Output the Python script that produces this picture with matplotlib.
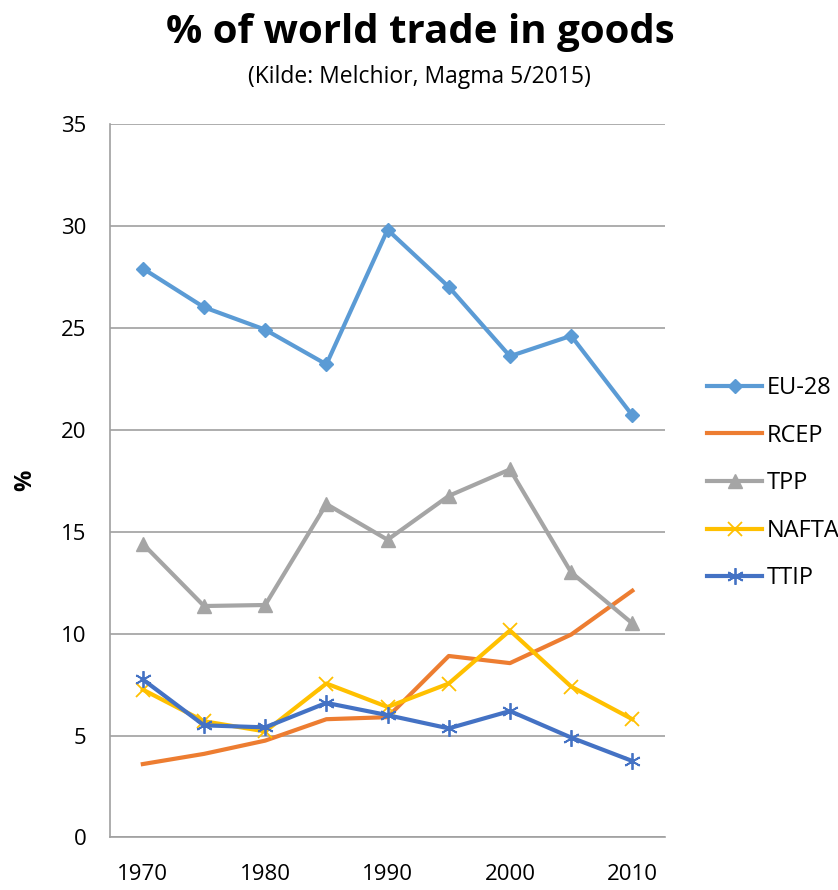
import numpy as np
import matplotlib.pyplot as plt

plt.rcParams['font.family'] = ['Open Sans', 'DejaVu Sans']

years = [1970, 1975, 1980, 1985, 1990, 1995, 2000, 2005, 2010]
eu28 = [27.9, 26.0, 24.9, 23.2, 29.8, 27.0, 23.6, 24.6, 20.7]
rcep = [3.6, 4.1, 4.75, 5.8, 5.9, 8.9, 8.55, 9.95, 12.1]
tpp = [14.4, 11.35, 11.4, 16.35, 14.6, 16.75, 18.05, 13.0, 10.5]
nafta = [7.25, 5.7, 5.2, 7.55, 6.4, 7.55, 10.15, 7.4, 5.8]
ttip = [7.75, 5.5, 5.4, 6.6, 6.0, 5.35, 6.2, 4.9, 3.75]

fig = plt.figure(figsize=(8.38, 8.9), dpi=100)
ax = fig.add_axes([0.131, 0.059, 0.663, 0.802])

lw = 3.0
ax.plot(years, eu28, color='#5B9BD5', lw=lw, marker='D', ms=7, label='EU-28')
ax.plot(years, rcep, color='#ED7D31', lw=lw, label='RCEP')
ax.plot(years, tpp, color='#A5A5A5', lw=lw, marker='^', ms=10, label='TPP')
ax.plot(years, nafta, color='#FFC000', lw=lw, marker='x', ms=10, mew=1.3, label='NAFTA')
ax.plot(years, ttip, color='#4472C4', lw=lw, marker=(6, 2, 0), ms=12, mew=1.3, label='TTIP')

ax.set_xlim(1967.3, 2012.7)
ax.set_ylim(0, 35)
ax.set_yticks(np.arange(0, 36, 5))
ax.set_xticks([1970, 1980, 1990, 2000, 2010])
ax.grid(axis='y', color='#A0A0A0', lw=1.2)
ax.set_axisbelow(True)
for s in ['top', 'right']:
    ax.spines[s].set_visible(False)
for s in ['left', 'bottom']:
    ax.spines[s].set_color('#A0A0A0')
    ax.spines[s].set_linewidth(1.2)
ax.tick_params(axis='both', length=0, labelsize=16)
ax.tick_params(axis='y', pad=17)
ax.tick_params(axis='x', pad=19)

# y axis label placed on the figure
fig.text(0.030, 0.46, '%', rotation=90, ha='center', va='center',
         fontsize=17, fontweight='bold')

fig.text(0.502, 0.963, '% of world trade in goods', ha='center', va='center',
         fontsize=29, fontweight='bold')
fig.text(0.5, 0.914, '(Kilde: Melchior, Magma 5/2015)', ha='center', va='center',
         fontsize=16.5)

ax.legend(loc='center left', bbox_to_anchor=(0.833, 0.457), bbox_transform=fig.transFigure,
          frameon=False, fontsize=17, handlelength=2.3, handletextpad=0.2,
          labelspacing=1.0, borderaxespad=0)

fig.savefig('out.png', dpi=100)
